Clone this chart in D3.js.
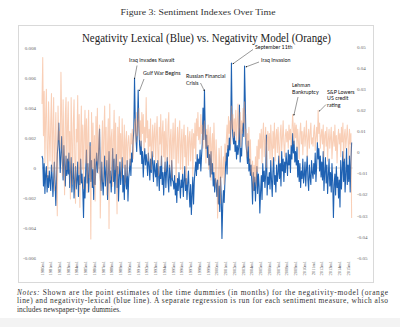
<!DOCTYPE html>
<html>
<head>
<meta charset="utf-8">
<script src="https://cdn.jsdelivr.net/npm/d3@7"></script>
<style>
  html, body { margin: 0; padding: 0; background: #fff; }
  svg { display: block; }
</style>
</head>
<body>
<div id="chart"></div>
<script>
// monthly point estimates, 1980m1 .. 2015m6
const startYear = 1980;

// negativity-lexical (blue, left axis)
const lexical = [
  0.0008,0.0006,-0.0012,0.0003,-0.0017,-0.0004,0.0001,-0.0016,-0.0005,-0.0013,-0.0002,-0.0009,
  -0.0015,0.0002,-0.0006,-0.0019,-0.0008,0.0004,-0.0011,-0.0025,-0.0007,0.0009,0.0016,0.003,
  0.0012,-0.0003,0.0009,0.0021,0.0004,-0.0008,0.0015,0.0002,-0.0012,0.0008,-0.0005,0.0006,
  -0.0004,0.001,-0.0013,-0.0002,0.0007,-0.0016,-0.0006,0.0003,-0.002,-0.0009,0.0001,-0.0014,
  -0.0008,0.0004,-0.0019,-0.0005,-0.0011,0.0006,-0.001,-0.0004,-0.0015,-0.0033,-0.0006,-0.002,
  -0.0002,0.0012,-0.001,0.0003,-0.0016,-0.0004,0.0017,-0.0009,0.0005,-0.0013,-0.0001,-0.0021,
  0.0006,-0.0011,0.0002,0.001,-0.0003,0.0003,0.0014,0.0026,-0.0006,-0.0015,0.0004,-0.0009,
  -0.0018,-0.0005,0.0008,-0.0012,-0.0003,0.0005,-0.0021,-0.0007,0.0011,-0.001,-0.0002,-0.0016,
  -0.0004,0.0013,-0.0009,0.0006,-0.0017,-0.0002,0.0009,-0.0013,0.0001,-0.0022,-0.0006,0.0004,
  -0.0011,-0.0003,0.0007,-0.0016,-0.0005,-0.0021,0.0002,-0.0009,-0.0014,0.0005,-0.0022,-0.0007,
  -0.0002,0.0006,-0.0005,0.001,0.0004,0.0018,0.0025,0.006,0.0032,0.002,0.0011,0.0028,
  0.0052,0.0028,0.0015,0.0009,0.0018,0.0003,0.0011,-0.0006,0.0006,0.0013,0.0002,0.0009,
  0.0004,-0.0005,0.001,0.0002,-0.0008,0.0006,-0.0003,0.0011,0.0003,-0.0009,0.0005,-0.0002,
  -0.0006,0.0003,-0.0012,0.0005,-0.0004,-0.0015,0.0001,-0.0007,0.0008,-0.0011,-0.0003,-0.0018,
  -0.0005,0.0004,-0.0013,-0.0002,0.0007,-0.0009,-0.0016,0.0002,-0.0006,-0.0012,0.0005,-0.0008,
  -0.0009,-0.0014,-0.0005,-0.0018,-0.001,-0.0023,-0.0007,-0.0015,-0.0003,-0.0012,-0.002,-0.0008,
  -0.0013,-0.0004,-0.0019,-0.0009,0.0001,-0.0015,-0.0007,-0.0021,-0.001,-0.0002,-0.0016,-0.0026,
  -0.0011,-0.0031,-0.0018,-0.0006,-0.0024,-0.0009,-0.0002,0.0004,-0.0005,0.0009,-0.0001,0.0006,
  0.0003,0.0012,-0.0002,0.0008,0.0016,0.004,0.0019,0.0052,0.0026,0.0013,0.0022,0.0007,
  0.0015,0.0002,0.0009,-0.0006,0.0011,-0.0004,0.0003,-0.0012,-0.0003,-0.0016,-0.0007,-0.001,
  -0.0019,-0.0008,-0.0024,-0.0012,-0.0029,-0.0006,-0.0018,-0.0047,-0.0026,-0.0015,-0.0023,-0.001,
  0.0002,0.001,-0.0004,0.0015,0.0008,0.002,0.0012,0.0026,0.007,0.003,0.0021,0.0016,
  0.0024,0.0011,0.0018,0.0006,0.0015,0.0009,0.0014,0.0042,0.0004,0.0013,0.0008,0.0025,
  0.003,0.0021,0.0068,0.0045,0.0016,0.001,0.0003,0.0018,-0.0002,0.0006,-0.0005,0.0002,
  -0.0009,-0.0024,-0.0003,-0.0015,-0.0006,-0.0022,-0.001,0.0001,-0.0017,-0.0004,-0.0012,-0.003,
  -0.0016,-0.0005,-0.0021,0.0003,-0.0009,-0.0002,-0.0013,-0.0004,0.0022,-0.0018,-0.0006,-0.0011,
  -0.0003,-0.0014,0.0005,-0.0008,-0.0019,-0.0002,0.0007,-0.0011,-0.0005,-0.0016,0.0002,-0.0009,
  -0.0004,0.0008,-0.0007,0.0003,-0.0012,0.0011,-0.0002,0.0006,-0.0009,0.0004,-0.0003,0.001,
  0.0003,-0.0005,0.0012,0.0002,0.0009,-0.0003,0.0015,0.0006,0.0023,0.001,0.0018,0.0004,
  0.0011,0.0002,0.0014,-0.0006,0.0005,-0.0009,0.0003,-0.0013,-0.0002,-0.0007,0.0006,-0.001,
  -0.0005,0.0004,-0.0012,-0.0001,0.0008,-0.0008,-0.0015,0.0002,-0.0006,-0.0011,0.0005,-0.0003,
  -0.0007,0.0003,-0.0004,0.001,-0.0009,0.0002,0.0017,0.0006,0.0013,-0.0002,0.0008,-0.0006,
  0.0004,-0.0008,0.0011,-0.0015,-0.0003,0.0007,-0.001,0.0002,-0.0017,-0.0005,0.0006,-0.0012,
  -0.0003,-0.0016,0.0003,-0.0009,-0.0033,-0.0011,-0.0004,-0.0018,0.0001,-0.0013,-0.0006,-0.002,
  -0.0008,-0.0026,0.0005,-0.0014,-0.0002,0.0011,-0.0009,0.0006,-0.0016,-0.0004,0.0013,-0.0011,
  0.0002,-0.0009,0.0008,-0.0016,0.0004,0.0017
];

// negativity-model (orange, right axis)
const model = [
  0.023,0.045,0.008,0.029,-0.005,0.017,0.03,0.002,-0.012,0.024,0.009,-0.004,
  0.015,0.028,-0.009,0.011,0.026,-0.018,0.004,0.019,-0.006,-0.03,0.022,0.006,
  0.01,0.002,0.038,0.016,-0.011,0.025,0.003,-0.02,0.018,0.026,-0.008,0.012,
  0.024,-0.004,0.01,-0.022,0.026,0.007,-0.015,0.014,0.025,-0.002,-0.024,0.011,
  0.005,0.027,-0.01,0.018,-0.026,0.004,0.022,-0.008,0.013,-0.017,0.008,0.02,
  -0.005,0.016,-0.019,0.009,0.02,-0.012,0.003,-0.041,0.019,-0.007,0.014,-0.016,
  0.008,-0.023,0.017,-0.004,0.021,-0.01,0.006,0.013,-0.031,-0.009,0.002,0.015,
  -0.014,0.009,0.022,-0.006,0.012,-0.02,0.004,0.016,-0.036,0.023,-0.013,0.007,
  0.011,-0.016,0.005,0.02,-0.008,0.014,-0.005,-0.029,0.012,-0.01,0.017,-0.003,
  0.009,-0.012,0.016,0.003,-0.007,0.013,-0.015,0.006,0.01,-0.011,0.004,0.008,
  0.002,-0.006,0.009,0.004,0.011,-0.003,0.007,0.013,0.016,0.005,0.019,0.008,
  0.014,0.021,0.006,0.015,0.003,0.019,0.009,0.018,0.001,0.012,0.005,0.026,
  0.007,0.015,-0.004,0.011,0.003,0.016,-0.008,0.005,0.013,-0.002,0.009,0.014,
  -0.005,0.008,0.017,0.001,-0.011,0.012,0.004,0.018,-0.006,0.009,0.015,-0.002,
  0.01,-0.009,0.016,0.003,-0.004,0.013,0.019,-0.007,0.006,0.011,-0.012,0.005,
  0.014,-0.003,0.008,0.016,-0.014,0.002,0.012,-0.005,0.009,0.015,-0.008,0.004,
  0.011,-0.01,0.006,0.013,-0.002,0.008,-0.015,0.003,0.012,-0.006,0.007,0.01,
  -0.004,0.005,0.011,-0.011,0.009,0.002,0.014,-0.003,0.016,0.008,0.019,0.006,
  0.012,0.004,0.018,0.009,0.013,0.002,0.01,0.015,0.006,-0.005,0.011,0.003,
  0.013,-0.008,0.007,0.012,-0.013,0.004,0.009,-0.009,0.014,0.001,-0.016,0.006,
  -0.007,-0.031,-0.019,0.002,-0.005,-0.024,0.003,-0.012,-0.01,-0.002,-0.015,0.004,
  -0.004,0.006,0.013,0.002,0.017,0.009,0.015,0.004,0.022,0.011,0.018,0.007,
  0.016,0.008,0.02,0.005,0.014,0.023,0.006,0.012,0.019,0.003,0.015,0.009,
  0.021,0.014,0.024,0.007,0.011,-0.002,0.009,0.003,0.012,-0.005,0.006,-0.009,
  -0.011,-0.004,-0.018,-0.006,-0.014,-0.002,-0.016,0.003,-0.009,0.006,-0.003,0.009,
  0.002,0.011,-0.005,0.008,0.014,-0.002,0.006,0.012,-0.007,0.005,0.01,0.001,
  0.009,-0.003,0.013,0.004,-0.006,0.01,0.002,0.014,-0.004,0.007,0.011,0,
  0.012,0.003,-0.005,0.009,0.013,0.001,0.007,0.015,0.004,-0.002,0.008,0.011,
  0.005,0.01,0.002,0.013,0.006,0.011,0.003,0.009,0.018,0.012,0.004,0.014,
  0.007,0.013,0.002,0.011,0.005,-0.003,0.009,0.014,0.004,0.01,-0.001,0.008,
  0.012,0.003,0.008,0.015,-0.002,0.006,0.011,0.002,0.009,0.014,0.004,0.007,
  0.003,0.01,0.013,0.001,0.007,0.012,0.005,0.02,0.009,0.014,0.002,0.008,
  0.011,0.004,0.013,-0.002,0.008,0.01,0.003,0.012,-0.004,0.006,0.011,0.002,
  0.007,0.012,-0.003,0.005,0.01,0.003,0.013,0.001,0.008,-0.005,0.006,0.011,
  0.004,0.009,-0.002,0.012,0.005,0.014,-0.004,0.008,0.011,0.002,0.007,0.013,
  0.006,-0.003,0.011,0.004,0.009,-0.031
];

const yearLabels = [
  "1980m1","1981m1","1982m1","1983m1","1984m1","1985m1","1986m1","1987m1","1988m1",
  "1989m1","1990m1","1991m1","1992m1","1993m1","1994m1","1995m1","1996m1","1997m1",
  "1998m1","1999m1","2000m1","2001m1","2002m1","2003m1","2004m1","2005m1","2006m1",
  "2007m1","2008m1","2009m1","2010m1","2011m1","2012m1","2013m1","2014m1","2015m1"
];
const leftTicks = [-0.006, -0.004, -0.002, 0, 0.002, 0.004, 0.006, 0.008];
const rightTicks = [-0.05, -0.04, -0.03, -0.02, -0.01, 0, 0.01, 0.02, 0.03, 0.04, 0.05];

// events: month index in series, which series, label lines, label pos
const events = [
  { i: 127, s: "lex", lines: ["Iraq invades Kuwait"], tx: 129, ty: 62, ax: 137, ay: 65.5 },
  { i: 132, s: "lex", lines: ["Gulf War Begins"], tx: 143, ty: 75, ax: 144, ay: 79 },
  { i: 223, s: "lex", lines: ["Russian Financial", "Crisis"], tx: 186, ty: 78, ax: 200.5, ay: 83 },
  { i: 260, s: "lex", lines: ["September 11th"], tx: 255, ty: 49, ax: 253, ay: 49.5 },
  { i: 278, s: "lex", lines: ["Iraq Invasion"], tx: 261, ty: 62, ax: 259, ay: 62 },
  { i: 344, s: "mod", lines: ["Lehman", "Bankruptcy"], tx: 292, ty: 87, ax: 298, ay: 97 },
  { i: 379, s: "mod", lines: ["S&P Lowers", "US credit", "rating"], tx: 327, ty: 93.5, ax: 326, ay: 104.5 }
];

const W = 400, H = 327;
const svg = d3.select("#chart").append("svg")
  .attr("width", W).attr("height", H)
  .attr("viewBox", [0, 0, W, H]);

const serif = "'Liberation Serif', 'Times New Roman', serif";
const sans = "Lato, 'Open Sans', sans-serif";

svg.append("rect").attr("x", 0).attr("y", 318).attr("width", W).attr("height", 9).attr("fill", "#f3f3f3");

svg.append("text")
  .attr("x", 198).attr("y", 15)
  .attr("text-anchor", "middle")
  .attr("font-family", serif).attr("font-size", 8.6)
  .attr("fill", "#333")
  .attr("textLength", 155).attr("lengthAdjust", "spacingAndGlyphs")
  .text("Figure 3: Sentiment Indexes Over Time");

// chart frame
svg.append("rect")
  .attr("x", 18.5).attr("y", 25.5).attr("width", 355).attr("height", 257)
  .attr("fill", "#fff").attr("stroke", "#d9d9d9");

svg.append("text")
  .attr("x", 82).attr("y", 42)
  .attr("font-family", serif).attr("font-size", 11.5)
  .attr("fill", "#222")
  .attr("textLength", 249).attr("lengthAdjust", "spacingAndGlyphs")
  .text("Negativity Lexical (Blue) vs. Negativity Model (Orange)");

const x = d3.scaleLinear().domain([startYear, 2015]).range([42, 348]);
const yL = d3.scaleLinear().domain([-0.006, 0.008]).range([258, 48]);
const yR = d3.scaleLinear().domain([-0.05, 0.05]).range([258, 47]);
const t = i => startYear + i / 12;

// zero line
svg.append("line")
  .attr("x1", x(startYear)).attr("x2", x(t(lexical.length - 1)) + 1)
  .attr("y1", yL(0)).attr("y2", yL(0))
  .attr("stroke", "#d4d4d4").attr("stroke-width", 1);

// axes labels
svg.append("g").selectAll("text").data(leftTicks).join("text")
  .attr("x", 36).attr("y", d => yL(d)).attr("dy", "0.35em")
  .attr("text-anchor", "end")
  .attr("font-family", serif).attr("font-size", 5).attr("fill", "#666")
  .text(d => d === 0 ? "0" : d3.format(".3f")(d).replace("−", "-"));

svg.append("g").selectAll("text").data(rightTicks).join("text")
  .attr("x", 357).attr("y", d => yR(d)).attr("dy", "0.35em")
  .attr("font-family", serif).attr("font-size", 5).attr("fill", "#666")
  .text(d => d === 0 ? "0" : d3.format(".2f")(d).replace("−", "-"));

svg.append("g").selectAll("text").data(yearLabels).join("text")
  .attr("transform", (d, i) => `translate(${x(startYear + i) + 1.5},261) rotate(-90)`)
  .attr("text-anchor", "end")
  .attr("font-family", serif).attr("font-size", 4.4).attr("fill", "#555")
  .text(d => d);

const lineL = d3.line().x((d, i) => x(t(i))).y(d => yL(d));
const lineR = d3.line().x((d, i) => x(t(i))).y(d => yR(d));

svg.append("path").datum(lexical)
  .attr("d", lineL).attr("fill", "none")
  .attr("stroke", "#1f62b3").attr("stroke-width", 1.1)
  .attr("stroke-linejoin", "round");

svg.append("path").datum(model)
  .attr("d", lineR).attr("fill", "none")
  .attr("stroke", "#f4a070").attr("stroke-opacity", 0.5).attr("stroke-width", 1.05)
  .attr("stroke-linejoin", "round");

// annotations
svg.append("defs").append("marker")
  .attr("id", "arr").attr("viewBox", "0 0 10 10")
  .attr("refX", 9).attr("refY", 5)
  .attr("markerWidth", 3).attr("markerHeight", 3)
  .attr("orient", "auto")
  .append("path").attr("d", "M0,0L10,5L0,10z").attr("fill", "#111");

const ann = svg.append("g");
events.forEach(e => {
  const px = x(t(e.i));
  const py = e.s === "lex" ? yL(lexical[e.i]) : yR(model[e.i]);
  ann.append("line")
    .attr("x1", e.ax).attr("y1", e.ay)
    .attr("x2", px + (e.ax > px + 3 ? 1.2 : 0)).attr("y2", py + 1)
    .attr("stroke", "#333").attr("stroke-width", 0.5)
    .attr("marker-end", "url(#arr)");
  const tx = ann.append("text")
    .attr("font-family", sans).attr("font-size", 5.3).attr("fill", "#111");
  e.lines.forEach((l, k) => {
    tx.append("tspan").attr("x", e.tx).attr("y", e.ty + k * 6.8).text(l);
  });
});

// notes
const notes = svg.append("g").attr("font-family", serif).attr("font-size", 7.4).attr("fill", "#333");
const n1 = notes.append("text").attr("x", 17).attr("y", 294.5)
  .attr("textLength", 371).attr("lengthAdjust", "spacing");
n1.append("tspan").attr("font-style", "italic").text("Notes:");
n1.append("tspan").text(" Shown are the point estimates of the time dummies (in months) for the negativity-model (orange");
notes.append("text").attr("x", 17).attr("y", 303)
  .attr("textLength", 371).attr("lengthAdjust", "spacing")
  .text("line) and negativity-lexical (blue line). A separate regression is run for each sentiment measure, which also");
notes.append("text").attr("x", 17).attr("y", 311.5)
  .text("includes newspaper-type dummies.");
</script>
</body>
</html>
